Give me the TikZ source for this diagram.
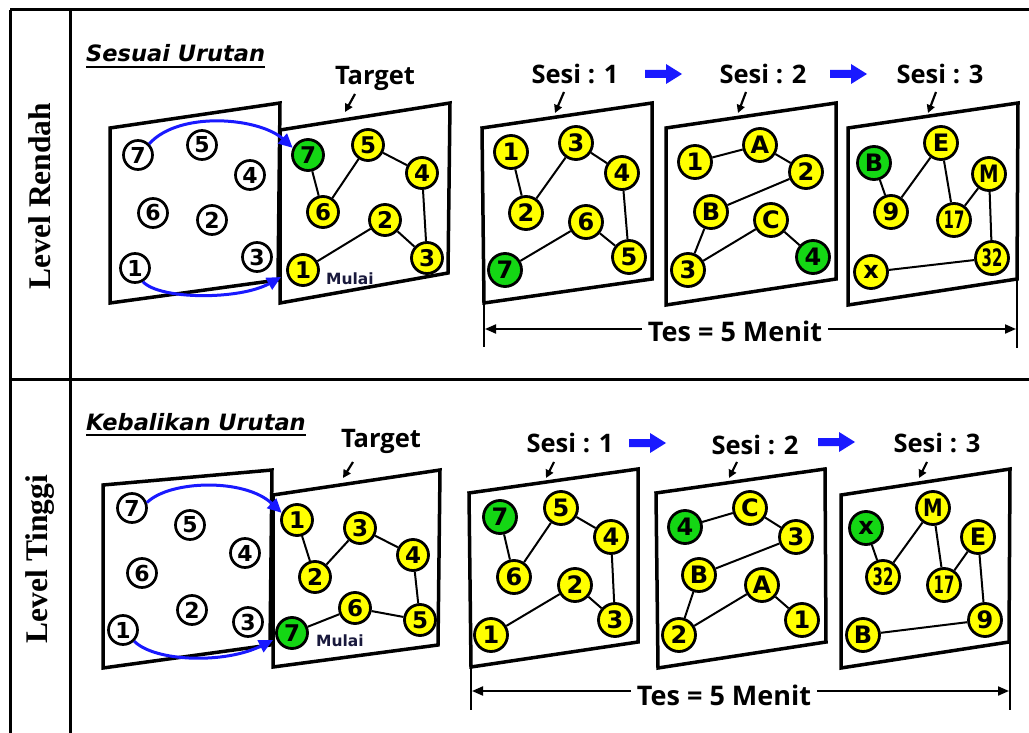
\documentclass[tikz,border=0pt]{standalone}
\usepackage{fontspec}
\setmainfont{Liberation Serif}
\newfontfamily\lblfont{Open Sans}
\newfontfamily\ttlfont{DejaVu Sans}
\newfontfamily\numfont{DejaVu Sans}
\usetikzlibrary{arrows.meta}
\definecolor{nodeyellow}{RGB}{255,255,0}
\definecolor{nodegreen}{RGB}{20,215,20}
\definecolor{flowblue}{RGB}{25,25,255}
\definecolor{mulaiink}{RGB}{25,25,60}
\newcommand\narrow[1]{\scalebox{0.62}[1]{#1}}
\newcommand\slim[1]{\scalebox{0.82}[1]{#1}}
\begin{document}
\begin{tikzpicture}[x=1pt,y=-1pt,
  tbl/.style={line width=3pt},
  panel/.style={draw, fill=white, line width=3.5pt, line join=miter},
  ring/.style={circle, draw, line width=2.7pt, fill=white, minimum size=29pt, inner sep=0pt,
    font=\numfont\bfseries\fontsize{22}{22}\selectfont},
  tnode/.style={circle, draw, line width=2.8pt, fill=nodeyellow, minimum size=31pt, inner sep=0pt,
    font=\numfont\bfseries\fontsize{23}{23}\selectfont},
  tgreen/.style={tnode, fill=nodegreen},
  snode/.style={circle, draw, line width=2.8pt, fill=nodeyellow, minimum size=33pt, inner sep=0pt,
    font=\numfont\bfseries\fontsize{24}{24}\selectfont},
  sgreen/.style={snode, fill=nodegreen},
  link/.style={line width=2pt},
  pointer/.style={line width=2.2pt, -{Triangle[length=8pt,width=8pt]}},
  flow/.style={flowblue, line width=3pt, -{Triangle[length=14pt,width=13pt]}},
  dim/.style={line width=2pt, {Triangle[length=11pt,width=9pt]}-{Triangle[length=11pt,width=9pt]}},
  ext/.style={line width=2.5pt},
  heading/.style={font=\lblfont\bfseries\fontsize{25.5}{28}\selectfont, inner sep=0pt},
  total/.style={font=\lblfont\bfseries\fontsize{27}{30}\selectfont, fill=white, inner xsep=6pt, inner ysep=2pt},
  title/.style={font=\ttlfont\bfseries\itshape\fontsize{22.5}{25}\selectfont, inner sep=0pt, anchor=base west},
  start/.style={font=\ttlfont\bfseries\fontsize{15.5}{17}\selectfont, text=mulaiink, inner sep=0pt, anchor=west},
  side/.style={font=\bfseries\fontsize{31.5}{34}\selectfont, rotate=90, inner sep=0pt},
]
\useasboundingbox (0,0) rectangle (1029,733);

% ---- table grid ----
\draw[tbl] (10,10) -- (1029,10);
\draw[tbl] (10,379) -- (1029,379);
\draw[tbl] (10,10) -- (10,733);
\draw[tbl] (70,10) -- (70,733);
\node[side] (lvlA) at (40,196) {Level Rendah};
\node[side] (lvlB) at (40,559) {Level Tinggi};

% =========================== upper row ===========================
\node[title] (ttlA) at (86,62) {Sesuai Urutan};
\draw[line width=2pt] ([yshift=-5pt]ttlA.base west) -- ([yshift=-5pt]ttlA.base east);

% scrambled board and target board
\draw[panel] (110,128) -- (280,103) -- (278,280) -- (110,303) -- cycle;
\draw[panel] (280,130) -- (450,103) -- (448,273) -- (280,303) -- cycle;

\node[ring] (aR7) at (138,155) {7};
\node[ring] (aR5) at (202,145) {5};
\node[ring] (aR4) at (250,175) {4};
\node[ring] (aR6) at (153,213) {6};
\node[ring] (aR2) at (212,220) {2};
\node[ring] (aR3) at (257,257) {3};
\node[ring] (aR1) at (135,268) {1};

\node[tgreen] (aT7) at (308,155) {7};
\node[tnode] (aT5) at (368,145) {5};
\node[tnode] (aT4) at (422,173) {4};
\node[tnode] (aT6) at (323,212) {6};
\node[tnode] (aT2) at (385,220) {2};
\node[tnode] (aT3) at (427,258) {3};
\node[tnode] (aT1) at (303,270) {1};
\draw[link] (aT7) -- (aT6) -- (aT5) -- (aT4) -- (aT3) -- (aT2) -- (aT1);
\node[start] (aGo) at (326,279) {Mulai};

\coordinate (aIn1) at (281,277);
\draw[flow] (aR7.45) .. controls (180,110) and (260,118) .. (aT7.155);
\draw[flow] (aR1.-60) .. controls (160,300) and (240,300) .. (aIn1);

\node[heading] (aTgt) at (375,78) {Target};
\coordinate (aTgtP0) at (355,94);
\coordinate (aTgtP1) at (345,112);
\draw[pointer] (aTgtP0) -- (aTgtP1);

% session boards
\draw[panel] (482,128) -- (652,103) -- (652,279) -- (484,303) -- cycle;
\draw[panel] (666,128) -- (836,103) -- (836,279) -- (666,305) -- cycle;
\draw[panel] (848,128) -- (1018,103) -- (1017,279) -- (848,305) -- cycle;

\node[snode] (a1n1) at (511,152) {1};
\node[snode] (a1n3) at (576,143) {3};
\node[snode] (a1n4) at (622,173) {4};
\node[snode] (a1n2) at (526,213) {2};
\node[snode] (a1n6) at (586,222) {6};
\node[sgreen] (a1n7) at (505,270) {7};
\node[snode] (a1n5) at (629,257) {5};
\draw[link] (a1n1) -- (a1n2) -- (a1n3) -- (a1n4) -- (a1n5) -- (a1n6) -- (a1n7);

\node[snode] (a2n1) at (695,162) {1};
\node[snode] (a2nA) at (760,145) {A};
\node[snode] (a2n2) at (806,172) {2};
\node[snode] (a2nB) at (711,212) {B};
\node[snode] (a2nC) at (771,220) {C};
\node[snode] (a2n3) at (688,270) {3};
\node[sgreen] (a2n4) at (813,257) {4};
\draw[link] (a2n1) -- (a2nA) -- (a2n2) -- (a2nB) -- (a2n3) -- (a2nC) -- (a2n4);

\node[sgreen] (a3nB) at (874,163) {B};
\node[snode] (a3nE) at (941,143) {E};
\node[snode] (a3nM) at (989,174) {\slim{M}};
\node[snode] (a3n9) at (891,212) {9};
\node[snode] (a3n17) at (954,220) {\narrow{17}};
\node[snode] (a3nx) at (871,272) {x};
\node[snode] (a3n32) at (992,258) {\narrow{32}};
\draw[link] (a3nB) -- (a3n9) -- (a3nE) -- (a3n17) -- (a3nM) -- (a3n32) -- (a3nx);

\node[heading] (aS1) at (575,74) {Sesi : 1};
\node[heading] (aS2) at (763,74) {Sesi : 2};
\node[heading] (aS3) at (940,74) {Sesi : 3};
\fill[flowblue] (645,70) -- (666,70) -- (666,64) -- (682,74) -- (666,84) -- (666,78) -- (645,78) -- cycle;
\fill[flowblue] (830,70) -- (851,70) -- (851,64) -- (867,74) -- (851,84) -- (851,78) -- (830,78) -- cycle;

\coordinate (aP1a) at (564,92); \coordinate (aP1b) at (555,113);
\coordinate (aP2a) at (746,92); \coordinate (aP2b) at (738,113);
\coordinate (aP3a) at (936,92); \coordinate (aP3b) at (928,113);
\draw[pointer] (aP1a) -- (aP1b);
\draw[pointer] (aP2a) -- (aP2b);
\draw[pointer] (aP3a) -- (aP3b);

\coordinate (aExtL0) at (484,303); \coordinate (aExtL1) at (484,347);
\coordinate (aExtR0) at (1017,279); \coordinate (aExtR1) at (1017,348);
\draw[ext] (aExtL0) -- (aExtL1);
\draw[ext] (aExtR0) -- (aExtR1);
\coordinate (aDimL) at (485,329); \coordinate (aDimR) at (1016,329);
\draw[dim] (aDimL) -- (aDimR);
\node[total] (aTes) at (735,331) {Tes = 5 Menit};

% =========================== lower row ===========================
\node[title] (ttlB) at (86,430) {Kebalikan Urutan};
\draw[line width=2pt] ([yshift=-5pt]ttlB.base west) -- ([yshift=-5pt]ttlB.base east);

\draw[panel] (103,485) -- (272,470) -- (270,645) -- (103,668) -- cycle;
\draw[panel] (273,495) -- (440,470) -- (438,645) -- (273,667) -- cycle;

\node[ring] (bR7) at (132,508) {7};
\node[ring] (bR5) at (190,525) {5};
\node[ring] (bR4) at (245,553) {4};
\node[ring] (bR6) at (142,573) {6};
\node[ring] (bR2) at (192,610) {2};
\node[ring] (bR3) at (248,622) {3};
\node[ring] (bR1) at (123,630) {1};

\node[tnode] (bT1) at (297,520) {1};
\node[tnode] (bT3) at (360,528) {3};
\node[tnode] (bT4) at (413,555) {4};
\node[tnode] (bT2) at (315,577) {2};
\node[tnode] (bT6) at (355,608) {6};
\node[tnode] (bT5) at (420,620) {5};
\node[tgreen] (bT7) at (292,633) {7};
\draw[link] (bT1) -- (bT2) -- (bT3) -- (bT4) -- (bT5) -- (bT6) -- (bT7);
\node[start] (bGo) at (316,641) {Mulai};

\coordinate (bIn1) at (273,640);
\draw[flow] (bR7.20) .. controls (170,480) and (245,478) .. (bT1.155);
\draw[flow] (bR1.-45) .. controls (155,662) and (225,664) .. (bIn1);

\node[heading] (bTgt) at (381,441) {Target};
\coordinate (bTgtP0) at (353,462);
\coordinate (bTgtP1) at (343,478);
\draw[pointer] (bTgtP0) -- (bTgtP1);

\draw[panel] (469,493) -- (638,469) -- (638,642) -- (471,667) -- cycle;
\draw[panel] (656,493) -- (825,469) -- (826,642) -- (658,668) -- cycle;
\draw[panel] (841,495) -- (1010,469) -- (1009,642) -- (841,668) -- cycle;

\node[sgreen] (b1n7) at (500,517) {7};
\node[snode] (b1n5) at (561,508) {5};
\node[snode] (b1n4) at (611,537) {4};
\node[snode] (b1n6) at (514,577) {6};
\node[snode] (b1n2) at (575,585) {2};
\node[snode] (b1n3) at (615,620) {3};
\node[snode] (b1n1) at (491,635) {1};
\draw[link] (b1n7) -- (b1n6) -- (b1n5) -- (b1n4) -- (b1n3) -- (b1n2) -- (b1n1);

\node[sgreen] (b2n4) at (685,527) {4};
\node[snode] (b2nC) at (750,508) {C};
\node[snode] (b2n3) at (796,537) {3};
\node[snode] (b2nB) at (699,575) {B};
\node[snode] (b2nA) at (762,585) {A};
\node[snode] (b2n1) at (802,620) {1};
\node[snode] (b2n2) at (679,635) {2};
\draw[link] (b2n4) -- (b2nC) -- (b2n3) -- (b2nB) -- (b2n2) -- (b2nA) -- (b2n1);

\node[sgreen] (b3nx) at (866,528) {x};
\node[snode] (b3nM) at (933,508) {\slim{M}};
\node[snode] (b3nE) at (978,537) {E};
\node[snode] (b3n32) at (883,577) {\narrow{32}};
\node[snode] (b3n17) at (944,585) {\narrow{17}};
\node[snode] (b3n9) at (985,620) {9};
\node[snode] (b3nB) at (863,635) {B};
\draw[link] (b3nx) -- (b3n32) -- (b3nM) -- (b3n17) -- (b3nE) -- (b3n9) -- (b3nB);

\node[heading] (bS1) at (570,443) {Sesi : 1};
\node[heading] (bS2) at (755,445) {Sesi : 2};
\node[heading] (bS3) at (937,443) {Sesi : 3};
\fill[flowblue] (629,439) -- (650,439) -- (650,433) -- (666,443) -- (650,453) -- (650,447) -- (629,447) -- cycle;
\fill[flowblue] (818,438) -- (839,438) -- (839,432) -- (855,442) -- (839,452) -- (839,446) -- (818,446) -- cycle;

\coordinate (bP1a) at (554,462); \coordinate (bP1b) at (546,478);
\coordinate (bP2a) at (737,462); \coordinate (bP2b) at (729,478);
\coordinate (bP3a) at (927,462); \coordinate (bP3b) at (919,478);
\draw[pointer] (bP1a) -- (bP1b);
\draw[pointer] (bP2a) -- (bP2b);
\draw[pointer] (bP3a) -- (bP3b);

\coordinate (bExtL0) at (471,667); \coordinate (bExtL1) at (471,710);
\coordinate (bExtR0) at (1010,642); \coordinate (bExtR1) at (1010,710);
\draw[ext] (bExtL0) -- (bExtL1);
\draw[ext] (bExtR0) -- (bExtR1);
\coordinate (bDimL) at (472,691); \coordinate (bDimR) at (1009,691);
\draw[dim] (bDimL) -- (bDimR);
\node[total] (bTes) at (724,695) {Tes = 5 Menit};
\end{tikzpicture}
\end{document}
